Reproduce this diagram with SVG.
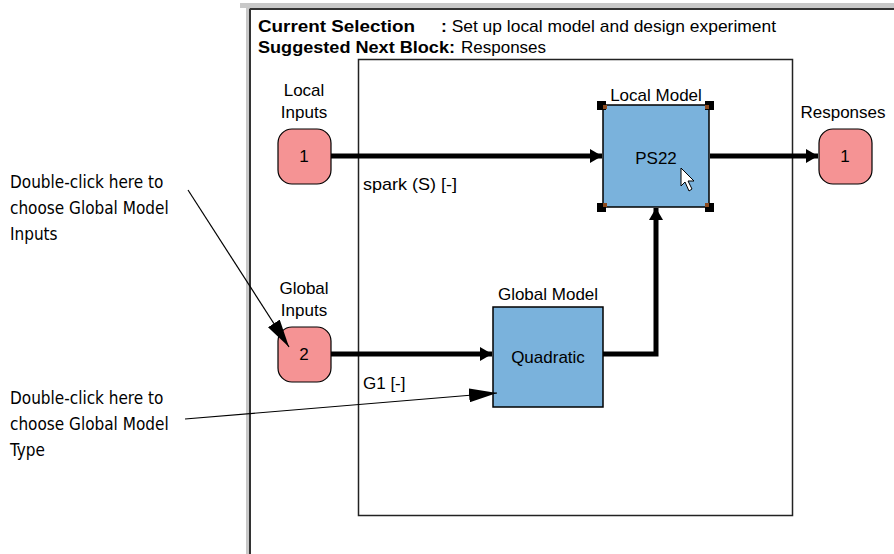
<svg xmlns="http://www.w3.org/2000/svg" width="894" height="554" viewBox="0 0 894 554">
<style>
.ui{font-family:"Liberation Sans",Arial,sans-serif;font-size:17px;fill:#000}
.b{font-weight:bold}
.lbl{font-family:"Liberation Sans",Arial,sans-serif;font-size:17px;fill:#000;text-anchor:middle}
.ann{font-family:"DejaVu Sans Condensed","DejaVu Sans",sans-serif;font-size:17px;fill:#000;font-stretch:condensed}
.port{fill:#f59394;stroke:#000;stroke-width:1.2}
.blk{fill:#7ab2dc;stroke:#000;stroke-width:1.5}
.wire{stroke:#000;stroke-width:5;fill:none}
.thin{stroke:#000;stroke-width:1.2;fill:none}
</style>
<defs>
<marker id="ah" markerWidth="12" markerHeight="14" refX="12" refY="7" orient="auto" markerUnits="userSpaceOnUse"><path d="M0,0 L12,7 L0,14 Z" fill="#000"/></marker>
<marker id="ah2" markerWidth="28" markerHeight="14" refX="28" refY="7" orient="auto" markerUnits="userSpaceOnUse"><path d="M0,0 L28,7 L0,14 Z" fill="#000"/></marker>
</defs>
<rect width="894" height="554" fill="#fff"/>
<g id="frame">
<rect x="240" y="3" width="654" height="5" fill="#c8c8c8"/>
<rect x="246" y="3" width="3" height="551" fill="#c8c8c8"/>
<line x1="249.5" y1="9" x2="894" y2="9" stroke="#333" stroke-width="2"/>
<line x1="250" y1="9" x2="250" y2="554" stroke="#333" stroke-width="2"/>
<rect x="358.5" y="59.5" width="434" height="456" fill="none" stroke="#222" stroke-width="1.5"/>
</g>
<g id="header">
<text class="ui b" x="258" y="32" textLength="157" lengthAdjust="spacingAndGlyphs">Current Selection</text>
<text class="ui" x="441" y="32" textLength="335" lengthAdjust="spacingAndGlyphs"><tspan class="b">:</tspan> Set up local model and design experiment</text>
<text class="ui b" x="258" y="53" textLength="197" lengthAdjust="spacingAndGlyphs">Suggested Next Block:</text>
<text class="ui" x="461" y="53">Responses</text>
</g>
<g id="connectors">
<line class="wire" x1="331" y1="156" x2="602" y2="156" marker-end="url(#ah)"/>
<line class="wire" x1="710" y1="156" x2="818" y2="156" marker-end="url(#ah)"/>
<line class="wire" x1="331" y1="354" x2="492" y2="354" marker-end="url(#ah)"/>
<polyline class="wire" points="603,354 656,354 656,208" marker-end="url(#ah)"/>
<text class="ui" x="363" y="190" textLength="94" lengthAdjust="spacingAndGlyphs">spark (S) [-]</text>
<text class="ui" x="363" y="389">G1 [-]</text>
</g>
<g id="local-inputs">
<text class="lbl" x="304" y="96">Local</text>
<text class="lbl" x="304" y="118">Inputs</text>
<rect class="port" x="278" y="129" width="53" height="55" rx="14"/>
<text class="lbl" x="304" y="162">1</text>
</g>
<g id="global-inputs">
<text class="lbl" x="304" y="294">Global</text>
<text class="lbl" x="304" y="316">Inputs</text>
<rect class="port" x="278" y="327" width="53" height="55" rx="14"/>
<text class="lbl" x="304" y="360">2</text>
</g>
<g id="responses">
<text class="lbl" x="843" y="118">Responses</text>
<rect class="port" x="819" y="129" width="53" height="55" rx="14"/>
<text class="lbl" x="845" y="162">1</text>
</g>
<g id="local-model">
<text class="lbl" x="656" y="101">Local Model</text>
<rect class="blk" x="603" y="105" width="106" height="102"/>
<g fill="#000">
<rect x="597" y="101" width="9" height="9"/><rect x="705" y="101" width="9" height="9"/>
<rect x="597" y="203" width="9" height="9"/><rect x="705" y="203" width="9" height="9"/>
</g>
<g fill="#8b4a1e">
<rect x="603" y="105" width="4" height="4"/><rect x="705" y="105" width="4" height="4"/>
<rect x="603" y="203" width="4" height="4"/><rect x="705" y="203" width="4" height="4"/>
</g>
<text class="lbl" x="656" y="164">PS22</text>
<path d="M681,168 L681,186 L685,182 L689,191 L692,189 L688,181 L694,181 Z" fill="#fff" stroke="#000" stroke-width="1"/>
</g>
<g id="global-model">
<text class="lbl" x="548" y="300">Global Model</text>
<rect class="blk" x="493" y="307" width="110" height="100"/>
<text class="lbl" x="548" y="363">Quadratic</text>
</g>
<g id="annotations">
<text class="ann" x="10" y="188">Double-click here to</text>
<text class="ann" x="10" y="214">choose Global Model</text>
<text class="ann" x="10" y="240">Inputs</text>
<text class="ann" x="10" y="404">Double-click here to</text>
<text class="ann" x="10" y="430">choose Global Model</text>
<text class="ann" x="10" y="456">Type</text>
<line class="thin" x1="188" y1="190" x2="289" y2="347" marker-end="url(#ah2)"/>
<line class="thin" x1="185" y1="419" x2="497" y2="393" marker-end="url(#ah2)"/>
</g>
</svg>
